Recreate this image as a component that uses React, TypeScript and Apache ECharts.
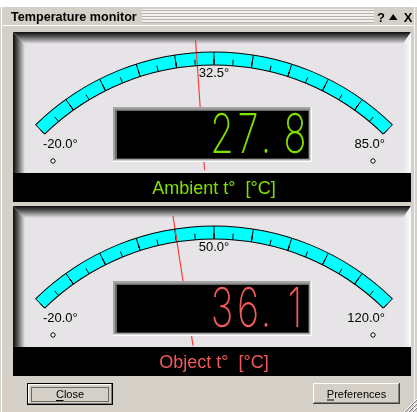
import React, { useEffect, useRef } from 'react';
import * as echarts from 'echarts';

// ---- data ----
const windowTitle = 'Temperature monitor';
const gaugeNames = ['Ambient t°  [°C]', 'Object t°  [°C]'];
const gaugeMin = [-20, -20];
const gaugeMax = [85, 120];
const gaugeValues = [27.8, 36.1];
const gaugeSplits = [10, 10];
const gaugeColors = ['#80e000', '#f05a5a'];
const buttonLabels = ['Close', 'Preferences'];

// ---- layout ----
const W = 417;
const H = 412;
const PANEL_DY = 174;
const CX = 214;
const CY = 307;
const R = 255;
const BAND = 13;
const START = 134.4;
const END = 45.6;
const FONT = 'Liberation Sans';

function buildOption() {
  const g: any[] = [];
  g.push({ type: 'rect', z: 0, shape: { x: 0, y: 0, width: W, height: H }, style: { fill: '#d4d0c8' } });
  g.push({ type: 'rect', z: 0, shape: { x: 0, y: 0, width: W, height: 7 }, style: { fill: '#ffffff' } });
  g.push({ type: 'line', z: 0, shape: { x1: 1.5, y1: 7, x2: 1.5, y2: H }, style: { stroke: '#ffffff', lineWidth: 1 } });
  g.push({ type: 'line', z: 0, shape: { x1: 414.5, y1: 7, x2: 414.5, y2: H }, style: { stroke: '#f4f4f4', lineWidth: 1 } });
  // title stripes
  g.push({ type: 'rect', z: 0, shape: { x: 142, y: 9, width: 232, height: 14 }, style: { fill: '#f2f1ee' } });
  for (let k = 0; k < 5; k++) {
    g.push({ type: 'line', z: 0, shape: { x1: 142, y1: 10.5 + 3 * k, x2: 374, y2: 10.5 + 3 * k }, style: { stroke: '#b4b2ae', lineWidth: 1 } });
  }
  g.push({ type: 'line', z: 0, shape: { x1: 2, y1: 25.5, x2: 414, y2: 25.5 }, style: { stroke: '#ffffff', lineWidth: 1 } });
  g.push({ type: 'text', z: 1, x: 11, y: 16.5, style: { text: windowTitle, fontSize: 12.6, fontWeight: 'bold', fontFamily: FONT, fill: '#000', verticalAlign: 'middle' } });
  g.push({ type: 'text', z: 1, x: 381, y: 17, style: { text: '?', fontSize: 13, fontWeight: 'bold', fontFamily: FONT, fill: '#000', align: 'center', verticalAlign: 'middle' } });
  g.push({ type: 'polygon', z: 1, shape: { points: [[389, 20], [397.5, 20], [393.2, 14]] }, style: { fill: '#000' } });
  g.push({ type: 'text', z: 1, x: 408, y: 17, style: { text: 'X', fontSize: 13, fontWeight: 'bold', fontFamily: FONT, fill: '#000', align: 'center', verticalAlign: 'middle' } });

  const series: any[] = [];

  for (let i = 0; i < gaugeValues.length; i++) {
    const dy = i * PANEL_DY;
    const cy = CY + dy;
    const color = gaugeColors[i];
    // panel
    g.push({ type: 'rect', z: 0, shape: { x: 13, y: 32 + dy, width: 398, height: 141 }, style: { fill: '#e7e4e7' } });
    g.push({
      type: 'polygon', z: 0, shape: { points: [[13, 32 + dy], [411, 32 + dy], [403, 44 + dy], [25, 44 + dy]] },
      style: { fill: new echarts.graphic.LinearGradient(0, 0, 0, 1, [{ offset: 0, color: '#0c0c0c' }, { offset: 0.35, color: '#505050' }, { offset: 1, color: '#e7e4e7' }]) }
    });
    g.push({
      type: 'polygon', z: 0, shape: { points: [[13, 32 + dy], [25, 44 + dy], [25, 173 + dy], [13, 173 + dy]] },
      style: { fill: new echarts.graphic.LinearGradient(0, 0, 1, 0, [{ offset: 0, color: '#0c0c0c' }, { offset: 0.35, color: '#505050' }, { offset: 1, color: '#e7e4e7' }]) }
    });
    g.push({
      type: 'polygon', z: 0, shape: { points: [[411, 32 + dy], [411, 173 + dy], [403, 173 + dy], [403, 44 + dy]] },
      style: { fill: new echarts.graphic.LinearGradient(0, 0, 1, 0, [{ offset: 0, color: '#e7e4e7' }, { offset: 1, color: '#fbfbfb' }]) }
    });
    g.push({ type: 'rect', z: 1, shape: { x: 13, y: 173 + dy, width: 398, height: 29 }, style: { fill: '#000' } });
    // knobs
    g.push({ type: 'circle', z: 3, shape: { cx: 53, cy: 161 + dy, r: 2.2 }, style: { fill: '#fff', stroke: '#000', lineWidth: 1 } });
    g.push({ type: 'circle', z: 3, shape: { cx: 373, cy: 161 + dy, r: 2.2 }, style: { fill: '#fff', stroke: '#000', lineWidth: 1 } });
    // LCD box
    g.push({ type: 'rect', z: 5, shape: { x: 113, y: 107 + dy, width: 199, height: 55 }, style: { fill: '#ffffff' } });
    g.push({ type: 'rect', z: 5, shape: { x: 113, y: 107 + dy, width: 197.5, height: 53.5 }, style: { fill: '#a4a4a4' } });
    g.push({ type: 'rect', z: 5, shape: { x: 115, y: 109.5 + dy, width: 194, height: 49.5 }, style: { fill: '#6c6c6c' } });
    g.push({ type: 'rect', z: 5, shape: { x: 117, y: 111 + dy, width: 191.5, height: 47.5 }, style: { fill: '#000' } });
    // LCD digits
    const txt = gaugeValues[i].toFixed(1);
    const [ip, fp] = txt.split('.');
    const intCells = [194, 222, 248];
    const chars: [string, number][] = [];
    for (let k = 0; k < ip.length; k++) chars.push([ip[k], intCells[intCells.length - ip.length + k]]);
    chars.push(['.', 266]);
    chars.push([fp, 295]);
    chars.forEach(([ch, x]) => {
      g.push({
        type: 'text', z: 6, x, y: 133 + dy, scaleY: 1.45,
        style: { text: ch, fontSize: 38, fontWeight: 200, fontFamily: 'Inter', fill: color, align: 'center', verticalAlign: 'middle' }
      });
    });

    const common = {
      center: [CX, cy], min: gaugeMin[i], max: gaugeMax[i],
      anchor: { show: false }, progress: { show: false }, detail: { show: false }, title: { show: false }
    };
    // main band + needle
    series.push({
      ...common, type: 'gauge', z: 2, radius: R, startAngle: START, endAngle: END, splitNumber: gaugeSplits[i],
      axisLine: { lineStyle: { width: BAND, color: [[1, '#00ffff']] } },
      splitLine: { length: BAND, distance: -BAND, lineStyle: { color: '#000', width: 1 } },
      axisTick: { splitNumber: 2, length: 6, distance: -6, lineStyle: { color: '#000', width: 1 } },
      axisLabel: { show: false },
      pointer: { show: true, icon: 'rect', width: 1.2, length: 131, offsetCenter: [0, -137], itemStyle: { color: '#ff3c3c' } },
      data: [{ value: gaugeValues[i] }]
    });
    // band outlines
    [R + 0.5, R - BAND + 0.5].forEach((rr) => {
      series.push({
        ...common, type: 'gauge', z: 2, radius: rr, startAngle: START, endAngle: END,
        axisLine: { lineStyle: { width: 1, color: [[1, '#000']] } },
        splitLine: { show: false }, axisTick: { show: false }, axisLabel: { show: false }, pointer: { show: false },
        data: [{ value: gaugeValues[i] }]
      });
    });
    // tick labels (min / mid / max)
    series.push({
      ...common, type: 'gauge', z: 3, center: [CX, cy - 13.7], radius: 227.3, startAngle: 138.8, endAngle: 41.2, splitNumber: 2,
      axisLine: { show: false }, splitLine: { show: false, length: 0, distance: 0 }, axisTick: { show: false },
      axisLabel: { show: true, distance: 0, fontSize: 13, fontFamily: FONT, color: '#000', formatter: (v: number) => v.toFixed(1) + '°' },
      pointer: { show: false },
      data: [{ value: gaugeValues[i] }]
    });
    // name in black bar
    series.push({
      ...common, type: 'gauge', z: 10, radius: R, startAngle: START, endAngle: END,
      axisLine: { show: false }, splitLine: { show: false }, axisTick: { show: false }, axisLabel: { show: false }, pointer: { show: false },
      title: { show: true, offsetCenter: [0, -119.5], color, fontSize: 18, fontFamily: FONT },
      data: [{ value: gaugeValues[i], name: gaugeNames[i] }]
    });
  }

  // buttons
  // Close (default button)
  g.push({ type: 'rect', z: 1, shape: { x: 27, y: 383, width: 86, height: 22 }, style: { fill: '#000' } });
  g.push({ type: 'rect', z: 1, shape: { x: 28, y: 384, width: 84, height: 20 }, style: { fill: '#808080' } });
  g.push({ type: 'rect', z: 1, shape: { x: 28, y: 384, width: 83, height: 19 }, style: { fill: '#ffffff' } });
  g.push({ type: 'rect', z: 1, shape: { x: 29, y: 385, width: 82, height: 18 }, style: { fill: '#d4d0c8' } });
  g.push({ type: 'rect', z: 1, shape: { x: 31.5, y: 387.5, width: 77, height: 14 }, style: { fill: 'none', stroke: '#000', lineWidth: 1, lineDash: [1, 1] } });
  g.push({ type: 'text', z: 2, x: 70, y: 394, style: { text: buttonLabels[0], fontSize: 11, fontFamily: FONT, fill: '#000', align: 'center', verticalAlign: 'middle' } });
  g.push({ type: 'line', z: 2, shape: { x1: 56, y1: 400.5, x2: 63.5, y2: 400.5 }, style: { stroke: '#000', lineWidth: 1 } });
  // Preferences
  g.push({ type: 'rect', z: 1, shape: { x: 313, y: 383, width: 87, height: 21 }, style: { fill: '#404040' } });
  g.push({ type: 'rect', z: 1, shape: { x: 313, y: 383, width: 86, height: 20 }, style: { fill: '#ffffff' } });
  g.push({ type: 'rect', z: 1, shape: { x: 314, y: 384, width: 85, height: 19 }, style: { fill: '#808080' } });
  g.push({ type: 'rect', z: 1, shape: { x: 314, y: 384, width: 84, height: 18 }, style: { fill: '#d4d0c8' } });
  g.push({ type: 'text', z: 2, x: 356.5, y: 393.5, style: { text: buttonLabels[1], fontSize: 11, fontFamily: FONT, fill: '#000', align: 'center', verticalAlign: 'middle' } });
  g.push({ type: 'line', z: 2, shape: { x1: 327, y1: 400, x2: 334, y2: 400 }, style: { stroke: '#000', lineWidth: 1 } });
  // size grip
  [3, 7, 11].forEach((a) => {
    g.push({ type: 'line', z: 1, shape: { x1: W - 1 - a, y1: H, x2: W, y2: H - 1 - a }, style: { stroke: '#808080', lineWidth: 1 } });
    g.push({ type: 'line', z: 1, shape: { x1: W - 2 - a, y1: H, x2: W, y2: H - 2 - a }, style: { stroke: '#ffffff', lineWidth: 1 } });
  });

  return { animation: false, graphic: { elements: g }, series };
}

export default function App() {
  const ref = useRef<HTMLDivElement>(null);
  useEffect(() => {
    const chart = echarts.init(ref.current!, null, { renderer: 'svg' });
    chart.setOption(buildOption() as any);
    return () => chart.dispose();
  }, []);
  return <div ref={ref} style={{ position: 'fixed', left: 0, top: 0, width: W, height: H }} />;
}
